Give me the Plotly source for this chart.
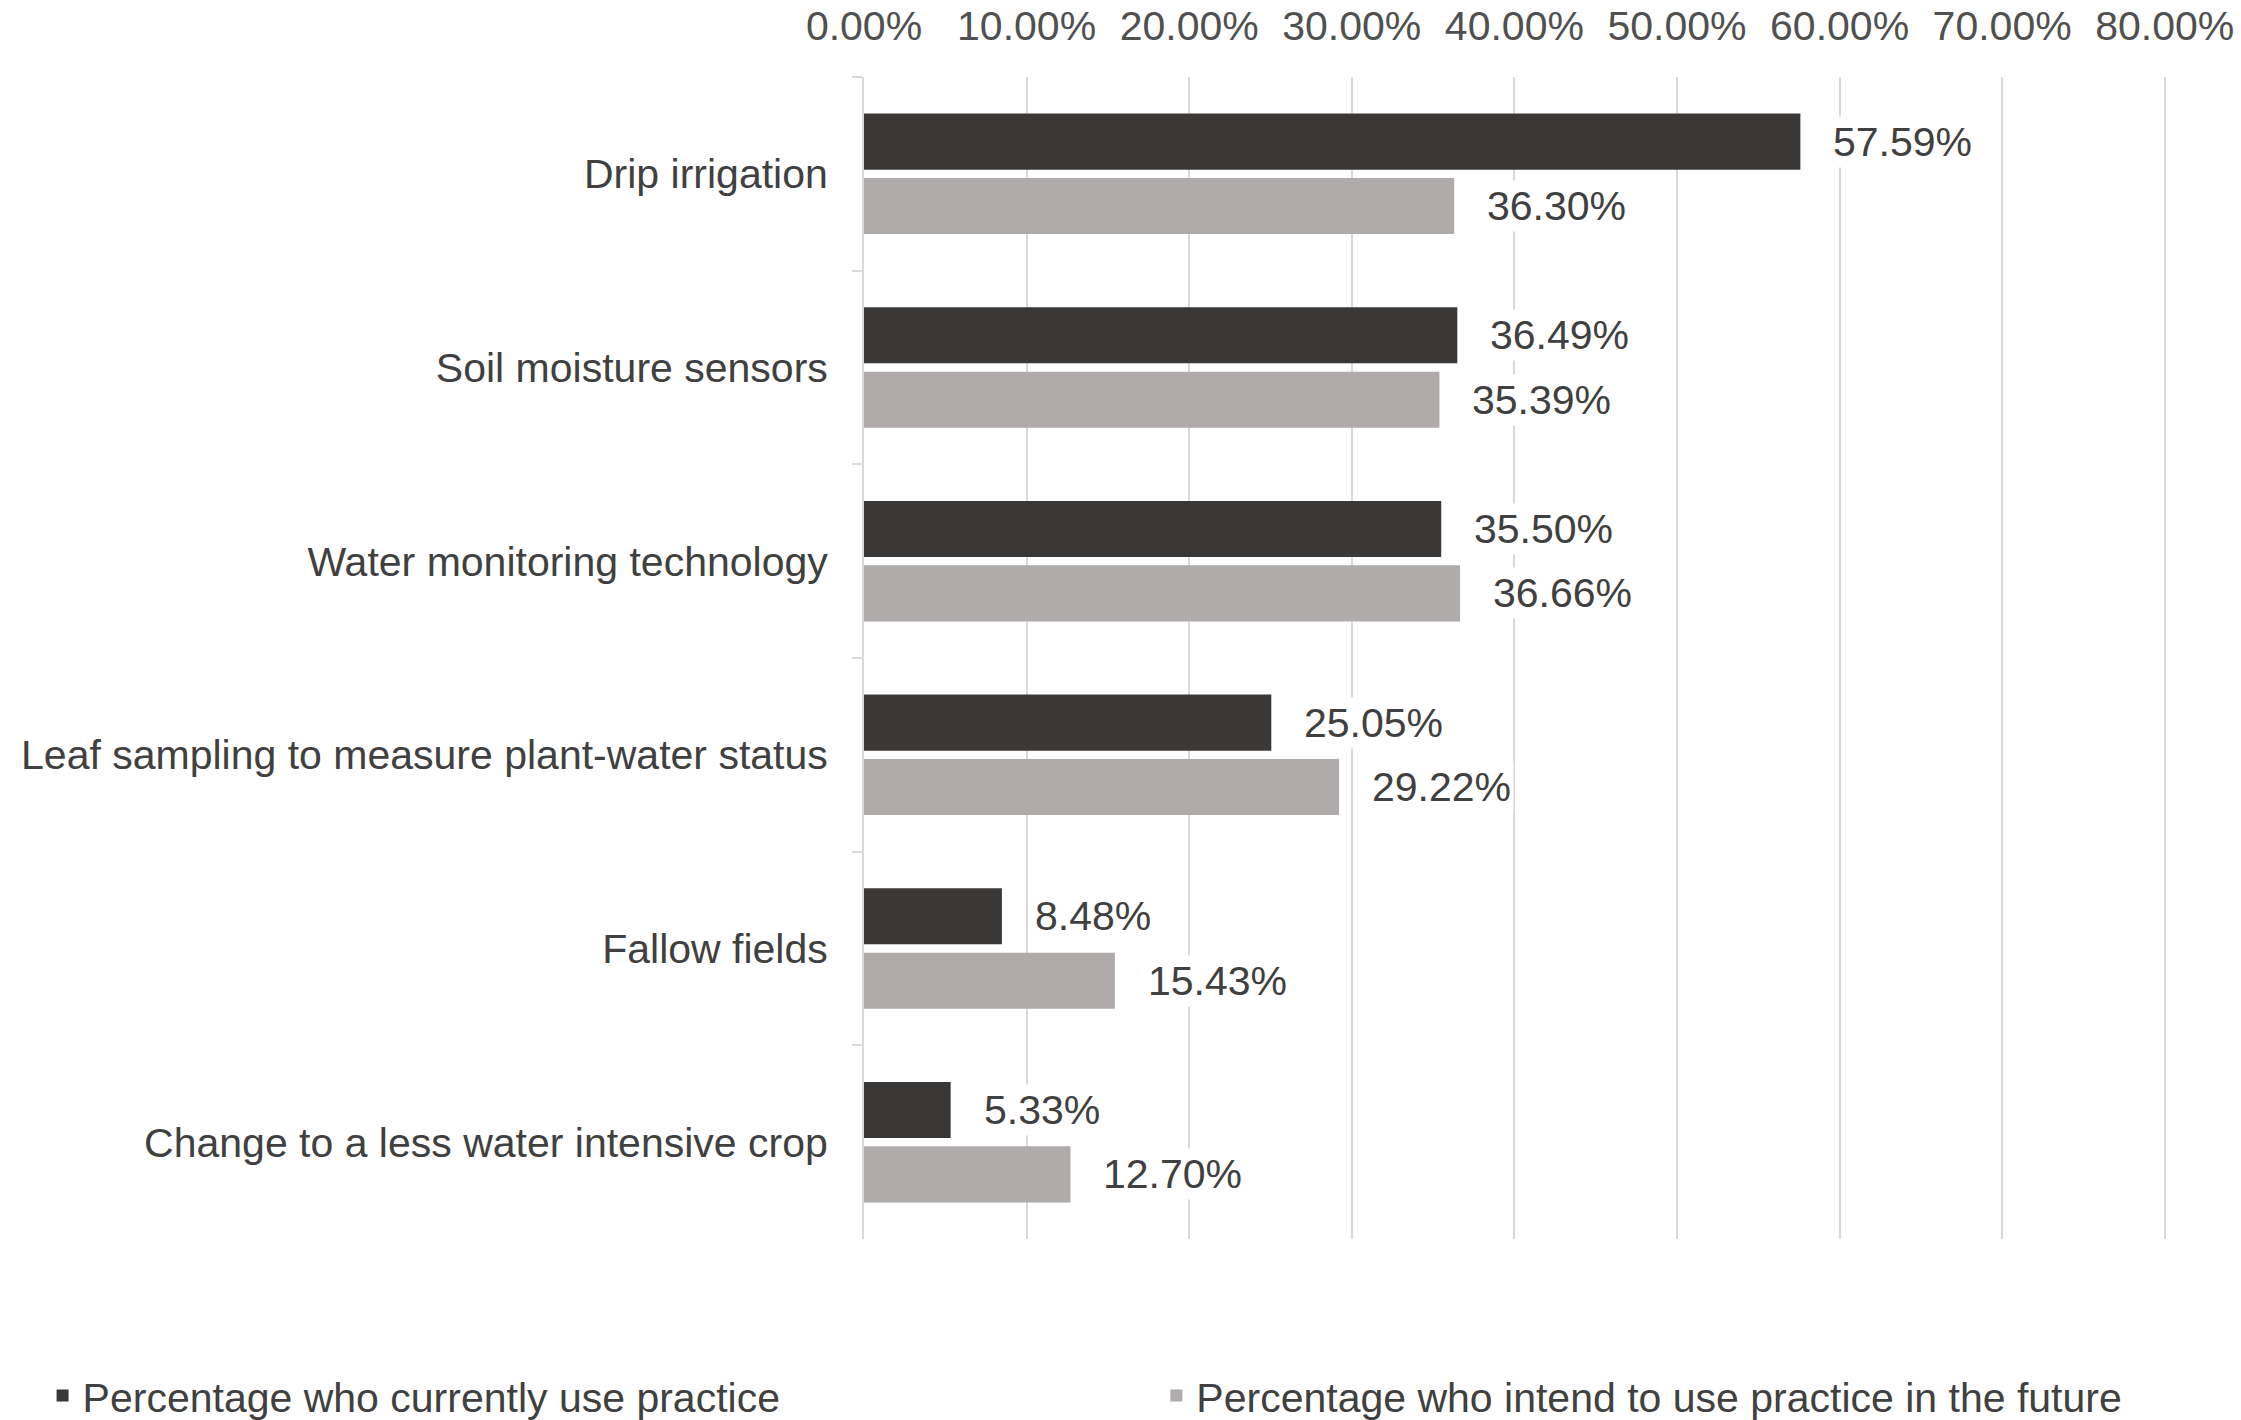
import plotly.graph_objects as go

# Irrigation / water-management practices among surveyed growers
practices = [
    "Drip irrigation",
    "Soil moisture sensors",
    "Water monitoring technology",
    "Leaf sampling to measure plant-water status",
    "Fallow fields",
    "Change to a less water intensive crop",
]
current_use = [0.5759, 0.3649, 0.3550, 0.2505, 0.0848, 0.0533]
future_use = [0.3630, 0.3539, 0.3666, 0.2922, 0.1543, 0.1270]

series_names = [
    "Percentage who currently use practice",
    "Percentage who intend to use practice in the future",
]
x_ticks = [0.0, 0.1, 0.2, 0.3, 0.4, 0.5, 0.6, 0.7, 0.8]

DARK = "#3a3836"
LIGHT = "#aeabaa"
TEXT = "#404040"
GRID = "#d9d9d9"
FONT = "Liberation Sans, Arial, sans-serif"
FS = 41

BARGAP = 0.335
BARGROUPGAP = 0.13

fig = go.Figure()
fig.add_trace(go.Bar(
    y=practices, x=current_use, orientation="h", name=series_names[0],
    marker=dict(color=DARK, line=dict(width=0)), legend="legend",
    showlegend=True, hoverinfo="x+y",
))
fig.add_trace(go.Bar(
    y=practices, x=future_use, orientation="h", name=series_names[1],
    marker=dict(color=LIGHT, line=dict(width=0)), legend="legend2",
    showlegend=True, hoverinfo="x+y",
))

# Value labels with a white backing so gridlines stop behind the text
offset = (1 - BARGAP) / 4
annotations = []
for i, (c, f) in enumerate(zip(current_use, future_use)):
    for val, dy in ((c, -offset), (f, offset)):
        annotations.append(dict(
            x=val, y=i + dy, xref="x", yref="y",
            text=f"{val * 100:.2f}%", showarrow=False,
            xanchor="left", yanchor="middle", xshift=30,
            bgcolor="white", borderpad=2,
            font=dict(family=FONT, size=FS, color=TEXT),
        ))

fig.update_layout(
    width=2241, height=1420,
    margin=dict(l=864, r=73, t=77, b=181),
    paper_bgcolor="white", plot_bgcolor="white",
    barmode="group", bargap=BARGAP, bargroupgap=BARGROUPGAP,
    font=dict(family=FONT, size=FS, color=TEXT),
    annotations=annotations,
    showlegend=True,
    legend=dict(
        xref="container", yref="container", x=0.019, y=0.017,
        xanchor="left", yanchor="middle", orientation="h",
        font=dict(family=FONT, size=FS, color=TEXT), bgcolor="rgba(0,0,0,0)",
    ),
    legend2=dict(
        xref="container", yref="container", x=0.516, y=0.017,
        xanchor="left", yanchor="middle", orientation="h",
        font=dict(family=FONT, size=FS, color=TEXT), bgcolor="rgba(0,0,0,0)",
    ),
)

# Slightly past 80% so the last gridline is drawn inside the plot area
fig.update_xaxes(
    side="top", range=[0, 0.802], tickvals=x_ticks, tickformat=".2%",
    showgrid=True, gridcolor=GRID, gridwidth=2, zeroline=False,
    showline=False, ticks="", ticklabelstandoff=28, automargin=False,
    tickfont=dict(family=FONT, size=FS, color="#505050"),
)
fig.update_yaxes(
    type="category", autorange="reversed", tickson="boundaries",
    ticks="outside", ticklen=10, tickcolor=GRID, tickwidth=2,
    showline=True, linecolor=GRID, linewidth=2, showgrid=False,
    ticklabelstandoff=26, automargin=False,
    tickfont=dict(family=FONT, size=FS, color=TEXT),
)

fig.write_html("out.html")
